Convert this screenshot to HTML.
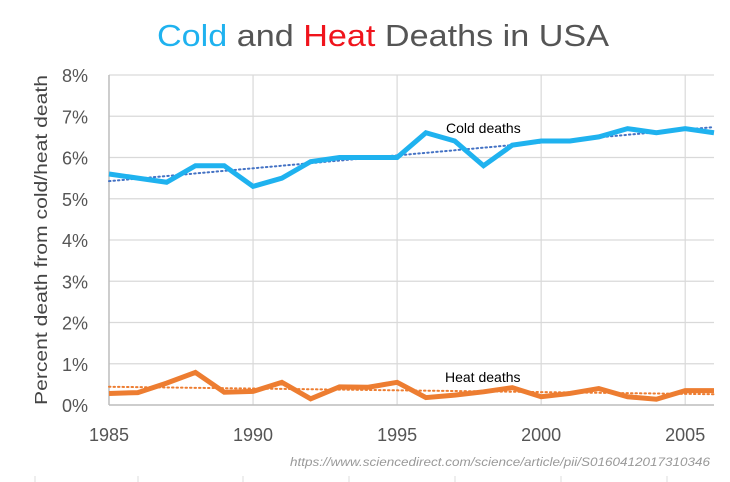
<!DOCTYPE html>
<html><head><meta charset="utf-8"><style>
html,body{margin:0;padding:0;background:#fff;}
svg{display:block;font-family:"Liberation Sans",sans-serif;}
</style></head><body>
<svg id="chart" width="730" height="482" viewBox="0 0 730 482" xmlns="http://www.w3.org/2000/svg">
<text x="383" y="46" text-anchor="middle" font-size="31" textLength="452" lengthAdjust="spacingAndGlyphs" fill="#555"><tspan fill="#1fb2ef">Cold</tspan> and <tspan fill="#f0141c">Heat</tspan> Deaths in USA</text>
<g id="grid"></g>
<g id="marks"></g>
<text transform="translate(47,240) rotate(-90)" text-anchor="middle" font-size="17.5" fill="#444" textLength="330" lengthAdjust="spacingAndGlyphs">Percent death from cold/heat death</text>
<text x="446" y="133" font-size="14" fill="#000">Cold deaths</text>
<text x="445" y="382" font-size="14" fill="#000">Heat deaths</text>
<text x="710" y="466" text-anchor="end" font-size="11.5" font-style="italic" fill="#999" textLength="420" lengthAdjust="spacingAndGlyphs">https://www.sciencedirect.com/science/article/pii/S0160412017310346</text>
</svg>
<script>
const years = [1985,1986,1987,1988,1989,1990,1991,1992,1993,1994,1995,1996,1997,1998,1999,2000,2001,2002,2003,2004,2005,2006];
const coldValues = [5.6,5.5,5.4,5.8,5.8,5.3,5.5,5.9,6.0,6.0,6.0,6.6,6.4,5.8,6.3,6.4,6.4,6.5,6.7,6.6,6.7,6.6];
const heatValues = [0.28,0.3,0.53,0.79,0.31,0.33,0.55,0.15,0.44,0.43,0.55,0.18,0.24,0.32,0.42,0.2,0.28,0.4,0.2,0.14,0.35,0.35];
const yTicks = [0,1,2,3,4,5,6,7,8];
const xTicks = [1985,1990,1995,2000,2005];

const NS="http://www.w3.org/2000/svg";
const L=109,R=714,T=75,B=405;
const xs=y=>L+(y-1985)/(2006-1985)*(R-L);
const ys=v=>B-v/8*(B-T);
const grid=document.getElementById('grid'), marks=document.getElementById('marks');
function mk(tag,attrs,parent){const e=document.createElementNS(NS,tag);for(const k in attrs)e.setAttribute(k,attrs[k]);parent.appendChild(e);return e;}

yTicks.forEach(v=>{
  const g=mk('line',{x1:L,x2:R,y1:ys(v),y2:ys(v),stroke:'#d9d9d9','stroke-width':1.2},grid);
  
  
  const t=mk('text',{x:88,y:ys(v)+7,'text-anchor':'end','font-size':18,fill:'#555'},grid);
  t.textContent=v+'%';
  
  
});
xTicks.forEach(v=>{
  const g=mk('line',{x1:xs(v),x2:xs(v),y1:T,y2:B,stroke:'#d9d9d9','stroke-width':1.2},grid);
  
  
  const t=mk('text',{x:xs(v),y:441,'text-anchor':'middle','font-size':18,fill:'#555'},grid);
  t.textContent=v;
  
  
});
const ax=mk('line',{x1:L,x2:L,y1:T,y2:B,stroke:'#bfbfbf','stroke-width':1.5},grid);


const bx=mk('line',{x1:L,x2:R,y1:B,y2:B,stroke:'#bfbfbf','stroke-width':1.5},grid);


[35,138,243,349,455,561,667].forEach(x=>{
  const s=mk('line',{x1:x,x2:x,y1:476,y2:482,stroke:'#ddd','stroke-width':1},grid);
  
  
});

function trend(vals){
  const n=years.length;let sx=0,sy=0,sxy=0,sxx=0;
  years.forEach((x,i)=>{sx+=x;sy+=vals[i];sxy+=x*vals[i];sxx+=x*x;});
  const m=(n*sxy-sx*sy)/(n*sxx-sx*sx), b=(sy-m*sx)/n;
  return [m*years[0]+b, m*years[n-1]+b];
}
function series(vals,color,trendColor,name){
  const tr=trend(vals);
  const tl=mk('line',{x1:xs(years[0]),y1:ys(tr[0]),x2:xs(years[years.length-1]),y2:ys(tr[1]),stroke:trendColor,'stroke-width':2,'stroke-dasharray':'1.5 3','stroke-linecap':'round'},marks);
  
  
  const p=mk('polyline',{points:years.map((y,i)=>xs(y)+','+ys(vals[i])).join(' '),fill:'none',stroke:color,'stroke-width':5,'stroke-linejoin':'miter'},marks);
  
  
}
series(coldValues,'#1fb2ef','#4472c4','cold-deaths');
series(heatValues,'#ed7d31','#ed7d31','heat-deaths');
</script>
</body></html>
